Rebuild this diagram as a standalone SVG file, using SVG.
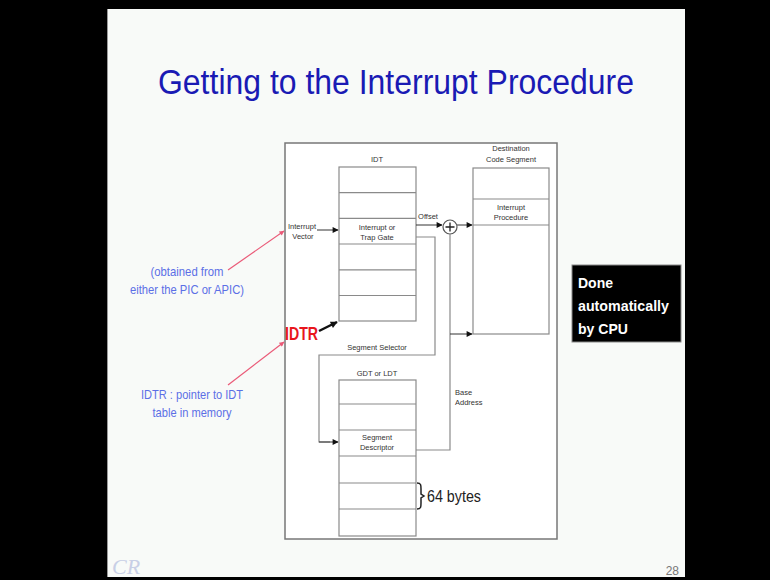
<svg xmlns="http://www.w3.org/2000/svg" width="770" height="580" viewBox="0 0 770 580">
<style>
.sm{font-family:"Liberation Sans",Arial,sans-serif;font-size:7.5px;fill:#333;text-anchor:middle}
.st{text-anchor:start}
.ln{fill:none;stroke:#8a8a8a;stroke-width:1.2}
.tb{fill:#fff;stroke:#8a8a8a;stroke-width:1.2}
.blue{font-family:"Liberation Sans",Arial,sans-serif;font-size:13px;fill:#5b6fe6;text-anchor:middle}
.pink{stroke:#ea5a78;stroke-width:1.2;fill:none}
.wt{font-family:"Liberation Sans",Arial,sans-serif;font-size:15px;font-weight:bold;fill:#fff}
</style>
<defs>
<marker id="ah" viewBox="0 0 10 10" refX="9" refY="5" markerWidth="8" markerHeight="6" markerUnits="userSpaceOnUse" orient="auto"><path d="M0,0 L10,5 L0,10 z" fill="#111"/></marker>
<marker id="pk" viewBox="0 0 10 10" refX="9" refY="5" markerWidth="6" markerHeight="5" markerUnits="userSpaceOnUse" orient="auto"><path d="M0,0 L10,5 L0,10 z" fill="#ea5a78"/></marker>
<marker id="bk" viewBox="0 0 10 10" refX="9" refY="5" markerWidth="8" markerHeight="7" markerUnits="userSpaceOnUse" orient="auto"><path d="M0,0 L10,5 L0,10 z" fill="#111"/></marker>
</defs>
<rect x="0" y="0" width="770" height="580" fill="#000"/>
<rect x="107" y="9" width="578" height="568" fill="#f8faf8"/>
<line x1="107.5" y1="9" x2="107.5" y2="577" stroke="#999" stroke-width="1"/>
<text x="396" y="94" font-family="'Liberation Sans',Arial,sans-serif" font-size="35" fill="#1a1ab4" text-anchor="middle" textLength="476" lengthAdjust="spacingAndGlyphs">Getting to the Interrupt Procedure</text>

<rect x="285" y="143" width="272" height="396" fill="#fff" stroke="#777" stroke-width="1.5"/>

<g id="idt">
<text class="sm" x="377" y="162">IDT</text>
<rect class="tb" x="339" y="167" width="77" height="154"/>
<path class="ln" d="M339,192.7H416M339,218.4H416M339,244H416M339,269.8H416M339,295.5H416"/>
<text class="sm" x="377" y="230">Interrupt or</text>
<text class="sm" x="377" y="240">Trap Gate</text>
</g>

<g id="dest">
<text class="sm" x="511" y="151">Destination</text>
<text class="sm" x="511" y="162">Code Segment</text>
<rect class="tb" x="473" y="168" width="76" height="166"/>
<path class="ln" d="M473,199H549M473,225H549"/>
<text class="sm" x="511" y="210">Interrupt</text>
<text class="sm" x="511" y="220">Procedure</text>
</g>

<g id="gdt">
<text class="sm" x="377" y="376">GDT or LDT</text>
<rect class="tb" x="339" y="380" width="77" height="156"/>
<path class="ln" d="M339,404H416M339,430H416M339,456H416M339,483H416M339,509H416"/>
<text class="sm" x="377" y="440">Segment</text>
<text class="sm" x="377" y="450">Descriptor</text>
</g>

<g id="adder">
<circle cx="450" cy="227" r="7" fill="#fff" stroke="#555" stroke-width="1.2"/>
<path d="M445.5,227H454.5M450,222.5V231.5" stroke="#222" stroke-width="1.3"/>
</g>

<g id="connectors">
<path d="M317,230H338" stroke="#333" stroke-width="1" marker-end="url(#ah)"/>
<path d="M416,225H442" stroke="#333" stroke-width="1" marker-end="url(#ah)"/>
<path d="M457,225H472" stroke="#333" stroke-width="1" marker-end="url(#ah)"/>
<path class="ln" d="M416,237H435V355H319V442H330"/>
<path d="M319,442H338" stroke="#333" stroke-width="1" marker-end="url(#ah)"/>
<path class="ln" d="M450,234V450H416"/>
<path d="M450,334H472" stroke="#333" stroke-width="1" marker-end="url(#ah)"/>
<path d="M319,331L337,322" stroke="#111" stroke-width="2.5" marker-end="url(#bk)"/>
<path d="M417,483c4,0 4,2 4,6v5l3,2l-3,2v5c0,4 0,6 -4,6" fill="none" stroke="#222" stroke-width="1.5"/>
</g>

<g id="labels">
<text class="sm" x="302" y="229">Interrupt</text>
<text class="sm" x="303" y="239">Vector</text>
<text class="sm" x="428" y="219">Offset</text>
<text class="sm" x="377" y="350">Segment Selector</text>
<text class="sm st" x="455" y="395">Base</text>
<text class="sm st" x="455" y="405">Address</text>
<text x="427" y="502" font-family="'Liberation Sans',Arial,sans-serif" font-size="17" fill="#222" textLength="54" lengthAdjust="spacingAndGlyphs">64 bytes</text>
<text x="285" y="340" font-family="'Liberation Sans',Arial,sans-serif" font-size="19" font-weight="bold" fill="#e8161c" textLength="33" lengthAdjust="spacingAndGlyphs">IDTR</text>
</g>

<g id="notes">
<text class="blue" x="187" y="276" textLength="73" lengthAdjust="spacingAndGlyphs">(obtained from</text>
<text class="blue" x="187" y="294" textLength="114" lengthAdjust="spacingAndGlyphs">either the PIC or APIC)</text>
<path class="pink" d="M228,270L284,231" marker-end="url(#pk)"/>
<text class="blue" x="192" y="399" textLength="102" lengthAdjust="spacingAndGlyphs">IDTR : pointer to IDT</text>
<text class="blue" x="192" y="417" textLength="79" lengthAdjust="spacingAndGlyphs">table in memory</text>
<path class="pink" d="M228,385L284,342" marker-end="url(#pk)"/>
</g>

<g id="cpu">
<rect x="572" y="265" width="109" height="77" fill="#000" stroke="#888" stroke-width="1"/>
<text class="wt" x="578" y="288" textLength="35" lengthAdjust="spacingAndGlyphs">Done</text>
<text class="wt" x="578" y="311" textLength="91" lengthAdjust="spacingAndGlyphs">automatically</text>
<text class="wt" x="578" y="334" textLength="50" lengthAdjust="spacingAndGlyphs">by CPU</text>
</g>
<text x="112" y="574" font-family="'Liberation Serif',serif" font-style="italic" font-size="22" fill="#c8cfe6">CR</text>
<text x="679" y="575" font-family="'Liberation Sans',Arial,sans-serif" font-size="12" fill="#777" text-anchor="end">28</text>
</svg>
